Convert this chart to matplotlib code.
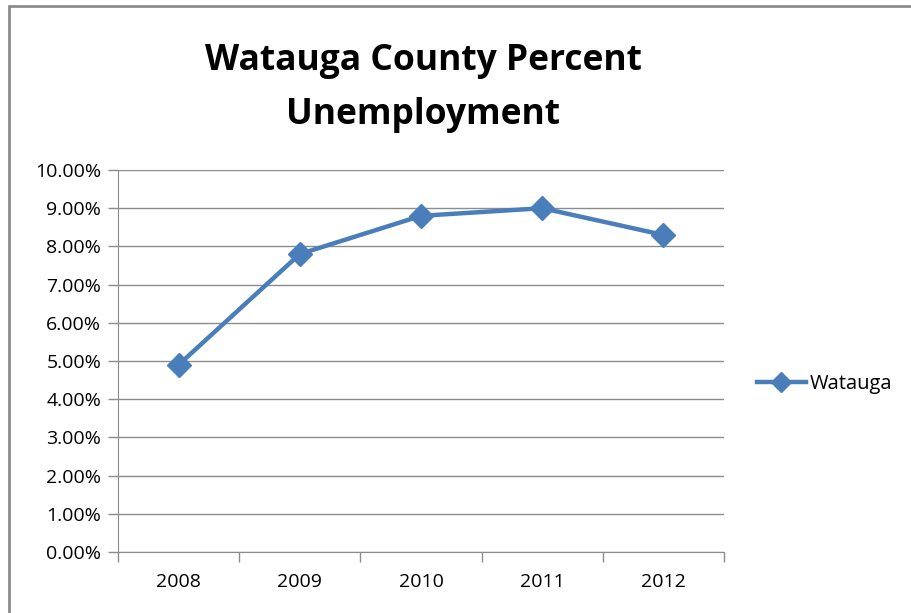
import matplotlib.pyplot as plt
import matplotlib.patches as patches
from matplotlib.ticker import FixedLocator, FuncFormatter

# data
years = ["2008", "2009", "2010", "2011", "2012"]
watauga = [4.9, 7.8, 8.8, 9.0, 8.3]
y_ticks = [0, 1, 2, 3, 4, 5, 6, 7, 8, 9, 10]

W, H = 911, 613
fig = plt.figure(figsize=(W / 100, H / 100), dpi=100)
plt.rcParams['font.family'] = ['Open Sans', 'DejaVu Sans']

# outer chart border (cropped on the right/bottom)
fig.patches.append(patches.Rectangle((9 / W, -0.1), 1.2, (H - 6) / H + 0.1,
                                     transform=fig.transFigure, fill=False,
                                     edgecolor='#8c8c8c', linewidth=2))

ax = fig.add_axes([118 / W, 1 - 552 / H, (724 - 118) / W, (552 - 170) / H])
x = list(range(len(years)))
ax.plot(x, watauga, color='#4A7EBB', linewidth=3.2, marker='D', markersize=12.5,
        label='Watauga', zorder=3)

ax.set_xlim(-0.5, len(years) - 0.5)
ax.set_ylim(0, 10)
ax.set_yticks(y_ticks)
ax.yaxis.set_major_formatter(FuncFormatter(lambda v, p: f"{v:.2f}%"))
ax.grid(axis='y', color='#8c8c8c', linewidth=1)
ax.set_axisbelow(True)

ax.set_xticks(x)
ax.set_xticklabels(years)
ax.xaxis.set_minor_locator(FixedLocator([i - 0.5 for i in range(len(years) + 1)]))
ax.tick_params(axis='x', which='major', length=0, pad=15, labelsize=14, colors='#000000')
ax.tick_params(axis='x', which='minor', length=7, color='#8c8c8c', width=1)
ax.tick_params(axis='y', length=7, color='#8c8c8c', width=1, labelsize=14, pad=5)

for s in ['top', 'right']:
    ax.spines[s].set_visible(False)
ax.spines['left'].set_color('#8c8c8c')
ax.spines['bottom'].set_color('#8c8c8c')

fig.text(423 / W, 1 - 61 / H, "Watauga County Percent", ha='center', va='center',
         fontsize=25.5, fontweight='bold')
fig.text(423 / W, 1 - 115 / H, "Unemployment", ha='center', va='center',
         fontsize=25.5, fontweight='bold')

ax.legend(loc='center left', bbox_to_anchor=(1.025, 0.44), frameon=False,
          fontsize=14.5, handlelength=2.4, handletextpad=0.2, markerscale=0.8)

fig.savefig("out.png", dpi=100)
